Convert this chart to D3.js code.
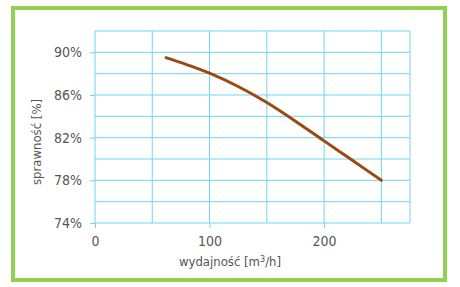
<!DOCTYPE html>
<html>
<head>
<meta charset="utf-8">
<script src="https://cdn.jsdelivr.net/npm/d3@7"></script>
<style>
  body { margin: 0; background: #fff; }
  text { font-family: "Liberation Sans Narrow", "DejaVu Sans Condensed", sans-serif; fill: #555; }
</style>
</head>
<body>
<svg id="chart" width="460" height="287"></svg>
<script>
// Data
const flow = [62, 80, 100, 125, 150, 175, 200, 225, 250];
const efficiency = [89.5, 88.85, 88.05, 86.8, 85.3, 83.55, 81.7, 79.85, 78.0];
const yTicks = [74, 78, 82, 86, 90];
const xTicks = [0, 100, 200];
const xGrid = [0, 50, 100, 150, 200, 250, 275];
const yGrid = [74, 76, 78, 80, 82, 84, 86, 88, 90, 92];

const svg = d3.select("#chart");

// green frame
svg.append("rect")
   .attr("x", 13).attr("y", 8)
   .attr("width", 432).attr("height", 272)
   .attr("fill", "none")
   .attr("stroke", "#92d050")
   .attr("stroke-width", 4);

const x = d3.scaleLinear().domain([0, 275]).range([95, 410]);
const y = d3.scaleLinear().domain([74, 92]).range([223, 31]);

const gridColor = "#74d5f3";

// grid
svg.append("g")
   .selectAll("line")
   .data(xGrid)
   .join("line")
   .attr("x1", d => x(d)).attr("x2", d => x(d))
   .attr("y1", y(74)).attr("y2", y(92))
   .attr("stroke", gridColor)
   .attr("stroke-width", 1);

svg.append("g")
   .selectAll("line")
   .data(yGrid)
   .join("line")
   .attr("x1", x(0)).attr("x2", x(275))
   .attr("y1", d => y(d)).attr("y2", d => y(d))
   .attr("stroke", gridColor)
   .attr("stroke-width", 1);

// axes
const yAxis = svg.append("g")
   .attr("transform", `translate(${x(0)},0)`)
   .call(d3.axisLeft(y).tickValues(yTicks).tickSize(5).tickPadding(8).tickFormat(d => d + "%"));
const xAxis = svg.append("g")
   .attr("transform", `translate(0,${y(74)})`)
   .call(d3.axisBottom(x).tickValues(xTicks).tickSize(5).tickPadding(8));

[yAxis, xAxis].forEach(a => {
    a.select(".domain").remove();
    a.selectAll(".tick line").attr("stroke", gridColor);
    a.selectAll(".tick text")
     .style("font-size", "14px")
     .attr("fill", "#555");
});

// efficiency curve
const line = d3.line()
   .x((d, i) => x(flow[i]))
   .y(d => y(d))
   .curve(d3.curveCatmullRom);

svg.append("path")
   .datum(efficiency)
   .attr("d", line)
   .attr("fill", "none")
   .attr("stroke", "#9a4a0e")
   .attr("stroke-width", 3)
   .attr("stroke-linecap", "round");

// axis titles
const xt = svg.append("text")
   .attr("x", 230).attr("y", 266)
   .attr("text-anchor", "middle")
   .style("font-size", "13px");
xt.append("tspan").text("wydajność [m");
xt.append("tspan").text("3").attr("dy", -4).style("font-size", "9px");
xt.append("tspan").text("/h]").attr("dy", 4);

svg.append("text")
   .attr("transform", "translate(41,142) rotate(-90)")
   .attr("text-anchor", "middle")
   .style("font-size", "13px")
   .text("sprawność [%]");
</script>
</body>
</html>
